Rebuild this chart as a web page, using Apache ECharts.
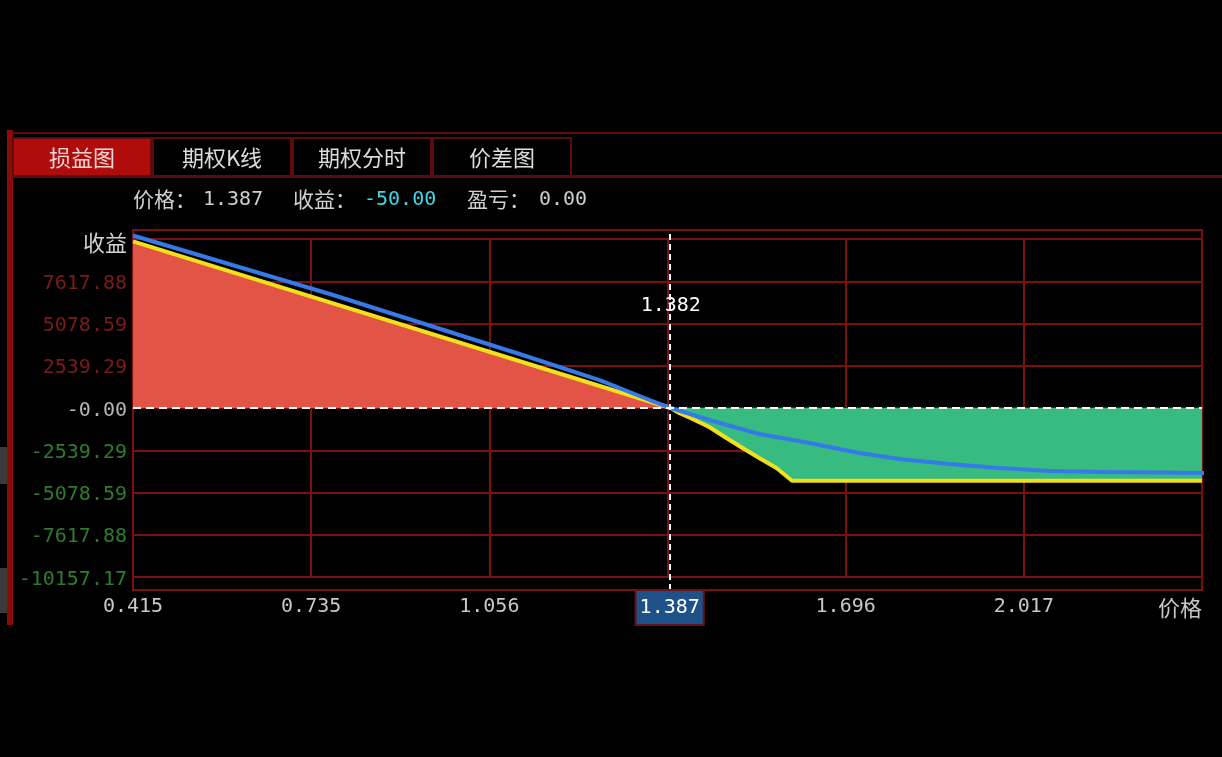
<!DOCTYPE html>
<html>
<head>
<meta charset="utf-8">
<script src="https://cdn.jsdelivr.net/npm/echarts@6/dist/echarts.min.js"></script>
<style>
html,body{margin:0;padding:0;background:#000;}
#c{width:1222px;height:757px;}
</style>
</head>
<body>
<div id="c"></div>
<script>
// ---- data ----
const tabNames = ['损益图', '期权K线', '期权分时', '价差图'];
const xTickLabels = ['0.415', '0.735', '1.056', '', '1.696', '2.017', '价格'];
const yTickLabels = ['-10157.17', '-7617.88', '-5078.59', '-2539.29', '-0.00', '2539.29', '5078.59', '7617.88', '收益'];
const xMin = 0.415, xStep = 0.32035, xMax = 2.3371;
const yMin = -10157.17, yStep = 2539.2925, yMax = 10157.17;

// P&L at expiry (yellow)
const expiryPrice = [0.415, 1.382, 1.397, 1.421, 1.451, 1.482, 1.511, 1.541, 1.572, 1.600, 2.337];
const expiryPnl   = [10010, 0, -300, -660, -1140, -1800, -2400, -3000, -3610, -4370, -4370];
// current theoretical P&L (blue)
const theoPrice = [0.415, 0.769, 1.110, 1.254, 1.344, 1.382, 1.451, 1.541, 1.631, 1.721, 1.793, 1.882, 1.972, 2.062, 2.170, 2.355];
const theoPnl   = [10370, 6850, 3245, 1680, 480, 0, -720, -1560, -2100, -2700, -3070, -3370, -3610, -3790, -3850, -3910];

const cursorPrice = 1.3842;
const cursorText = '1.387';
const breakeven = 1.382;
const breakevenText = '1.382';
const infoPrice = '1.387';
const infoIncome = '-50.00';
const infoPnl = '0.00';

// ---- styles ----
const MONO = 'DejaVu Sans Mono';
const CJK = 'Noto Sans CJK SC';
const GRIDC = '#7a1111';

const expirySeries = expiryPrice.map((p, i) => [p, expiryPnl[i]]);
const theoSeries = theoPrice.map((p, i) => [p, theoPnl[i]]);
const posArea = expirySeries.map(d => [d[0], Math.max(d[1], 0)]);
const negArea = expirySeries.map(d => [d[0], Math.min(d[1], 0)]);

const chart = echarts.init(document.getElementById('c'), null, {renderer: 'canvas'});

const tabGraphics = [];
tabNames.forEach((name, i) => {
  const x = 13 + i * 140;
  tabGraphics.push({
    type: 'rect', shape: {x: x, y: 138, width: 138, height: 38},
    style: {fill: i === 0 ? '#b00c0c' : '#000', stroke: '#5e0b0b', lineWidth: 2}, z: 10
  });
  tabGraphics.push({
    type: 'text', x: x + 69, y: 158,
    style: {text: name, fill: i === 0 ? '#f2d6d6' : '#dcdcdc', font: '22px "' + CJK + '"', align: 'center', verticalAlign: 'middle'}, z: 11
  });
});

function cursorMarkLine(val) {
  return {
    silent: true, symbol: ['none', 'none'],
    lineStyle: {color: '#ffffff', type: [6, 4], width: 2},
    label: {
      show: true, position: 'start', distance: 1, formatter: cursorText,
      fontFamily: MONO, fontSize: 20, color: '#ffffff', lineHeight: 20,
      backgroundColor: '#1f5189', borderColor: '#6a1212', borderWidth: 2,
      padding: [7, 3, 6, 3]
    },
    data: [{xAxis: val}]
  };
}

const option = {
  backgroundColor: '#000',
  animation: false,
  grid: [
    {left: 133, right: 20, top: 239, bottom: 180, show: false},
    {left: 133, right: 20, top: 230, bottom: 167, show: true, borderColor: GRIDC, borderWidth: 2, backgroundColor: 'transparent'}
  ],
  xAxis: [
    {
      gridIndex: 0, type: 'value', min: xMin, max: xMax, interval: xStep,
      axisLine: {show: false}, axisTick: {show: false},
      splitLine: {show: true, lineStyle: {color: GRIDC, width: 2}},
      axisLabel: {
        margin: 20, showMinLabel: true, showMaxLabel: true, alignMaxLabel: 'right',
        formatter: function (v) {
          const idx = Math.round((v - xMin) / xStep);
          const t = xTickLabels[idx] || '';
          if (!t) return '';
          return /[\u4e00-\u9fff]/.test(t) ? '{c|' + t + '}' : '{n|' + t + '}';
        },
        rich: {
          n: {fontFamily: MONO, fontSize: 20, color: '#c8c8c8'},
          c: {fontFamily: CJK, fontSize: 22, color: '#c8c8c8'}
        }
      }
    },
    {gridIndex: 1, type: 'value', min: xMin, max: xMax, interval: xStep, show: false}
  ],
  yAxis: [
    {
      gridIndex: 0, type: 'value', min: yMin, max: yMax, interval: yStep,
      axisLine: {show: false}, axisTick: {show: false},
      splitLine: {show: true, lineStyle: {color: GRIDC, width: 2}},
      axisLabel: {
        margin: 6, showMinLabel: true, showMaxLabel: true,
        formatter: function (v) {
          const idx = Math.round((v - yMin) / yStep);
          const t = yTickLabels[idx] || '';
          if (/[\u4e00-\u9fff]/.test(t)) return '{c|' + t + '}';
          const num = parseFloat(t);
          if (num > 0) return '{p|' + t + '}';
          if (num < 0) return '{g|' + t + '}';
          return '{z|' + t + '}';
        },
        rich: {
          p: {fontFamily: MONO, fontSize: 20, color: '#7e1a1a', padding: [5, 0, 0, 0]},
          g: {fontFamily: MONO, fontSize: 20, color: '#2f7c2f', padding: [5, 0, 0, 0]},
          z: {fontFamily: MONO, fontSize: 20, color: '#b4b4b4', padding: [5, 0, 0, 0]},
          c: {fontFamily: CJK, fontSize: 22, color: '#d2d2d2', padding: [8, 0, 0, 0]}
        }
      }
    },
    {gridIndex: 1, type: 'value', min: 0, max: 1, show: false}
  ],
  series: [
    {
      type: 'line', xAxisIndex: 0, yAxisIndex: 0, data: posArea, symbol: 'none', silent: true,
      lineStyle: {width: 0}, areaStyle: {color: '#e25546', opacity: 1}
    },
    {
      type: 'line', xAxisIndex: 0, yAxisIndex: 0, data: negArea, symbol: 'none', silent: true,
      lineStyle: {width: 0}, areaStyle: {color: '#38bb80', opacity: 1}
    },
    {
      type: 'line', xAxisIndex: 0, yAxisIndex: 0, data: expirySeries, symbol: 'none',
      lineStyle: {color: '#f2e01a', width: 4},
      markLine: {
        silent: true, symbol: ['none', 'none'], label: {show: false},
        lineStyle: {color: '#ffffff', type: [8, 5], width: 2},
        data: [{yAxis: 0}]
      }
    },
    {
      type: 'line', xAxisIndex: 0, yAxisIndex: 0, data: theoSeries, symbol: 'none', clip: false,
      lineStyle: {color: '#3679e8', width: 4}
    },
    {
      id: 'cursor', type: 'line', xAxisIndex: 1, yAxisIndex: 1, data: [], symbol: 'none',
      markLine: cursorMarkLine(cursorPrice)
    }
  ],
  graphic: [
    {type: 'rect', shape: {x: 8, y: 132, width: 1214, height: 2}, style: {fill: '#5c0a0a'}, z: 9},
    {type: 'rect', shape: {x: 7, y: 130, width: 6, height: 495}, style: {fill: '#8b0a0a'}, z: 9},
    {type: 'rect', shape: {x: 0, y: 447, width: 7, height: 37}, style: {fill: '#3a3a3a'}, z: 9},
    {type: 'rect', shape: {x: 0, y: 568, width: 7, height: 45}, style: {fill: '#3a3a3a'}, z: 9},
    {type: 'rect', shape: {x: 13, y: 175, width: 1209, height: 3}, style: {fill: '#5e0b0b'}, z: 9},
    ...tabGraphics,
    {type: 'text', x: 133, y: 199, style: {text: '价格：', fill: '#cfcfcf', font: '21px "' + CJK + '"', verticalAlign: 'middle'}},
    {type: 'text', x: 203, y: 200, style: {text: infoPrice, fill: '#cfcfcf', font: '20px "' + MONO + '"', verticalAlign: 'middle'}},
    {type: 'text', x: 293, y: 199, style: {text: '收益：', fill: '#cfcfcf', font: '21px "' + CJK + '"', verticalAlign: 'middle'}},
    {type: 'text', x: 364, y: 200, style: {text: infoIncome, fill: '#3fd6e6', font: '20px "' + MONO + '"', verticalAlign: 'middle'}},
    {type: 'text', x: 467, y: 199, style: {text: '盈亏：', fill: '#cfcfcf', font: '21px "' + CJK + '"', verticalAlign: 'middle'}},
    {type: 'text', x: 539, y: 200, style: {text: infoPnl, fill: '#cfcfcf', font: '20px "' + MONO + '"', verticalAlign: 'middle'}}
  ]
};

chart.setOption(option);

// align cursor (frame grid) with the main axis mapping, and place breakeven label
const cursorPx = chart.convertToPixel({xAxisIndex: 0}, cursorPrice);
const cursorVal = chart.convertFromPixel({xAxisIndex: 1}, cursorPx);
const bx = chart.convertToPixel({xAxisIndex: 0}, breakeven);
chart.setOption({
  series: [{id: 'cursor', markLine: cursorMarkLine(cursorVal)}],
  graphic: option.graphic.concat([
    {type: 'text', x: bx, y: 306, style: {text: breakevenText, fill: '#ffffff', font: '20px "' + MONO + '"', align: 'center', verticalAlign: 'middle'}, z: 20}
  ])
});
</script>
</body>
</html>
